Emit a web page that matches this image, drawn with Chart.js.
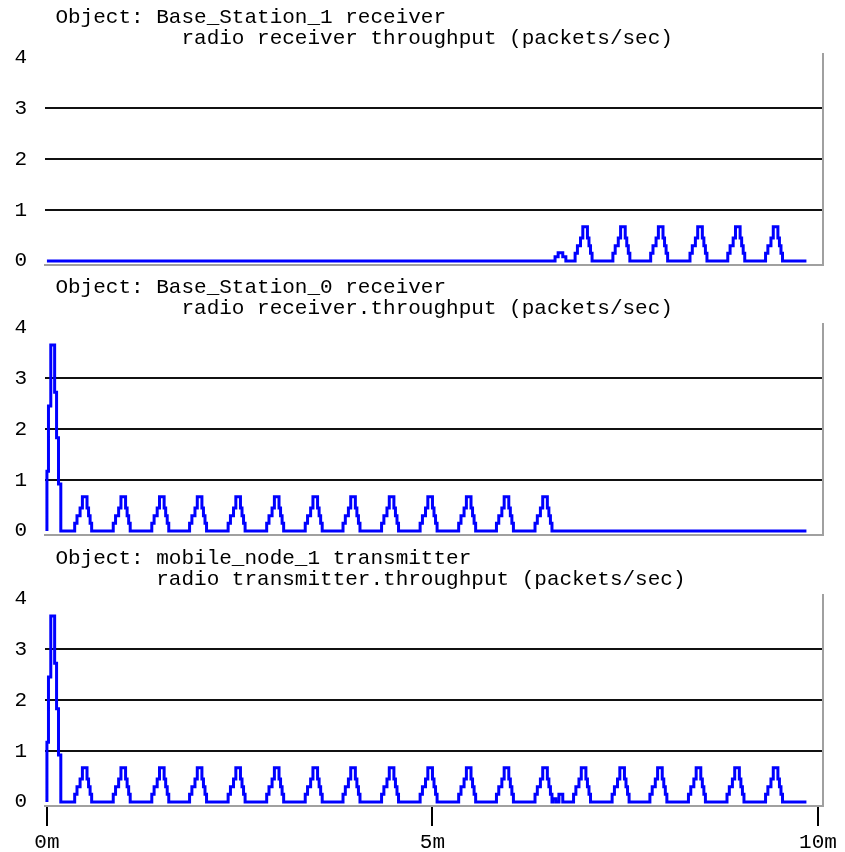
<!DOCTYPE html>
<html>
<head>
<meta charset="utf-8">
<script src="https://cdn.jsdelivr.net/npm/chart.js@4.4.1/dist/chart.umd.min.js"></script>
<style>
  html, body { margin: 0; padding: 0; background: #fff; }
  body { width: 845px; height: 852px; position: relative; overflow: hidden; }
  canvas { position: absolute; left: 0; }
</style>
</head>
<body>
<canvas id="bs1" width="845" height="270" style="top:0px"></canvas>
<canvas id="bs0" width="845" height="270" style="top:270px"></canvas>
<canvas id="mn1" width="845" height="311" style="top:541px"></canvas>
<script>
// axis ticks: minutes on x, packets/sec on y
const xTicks = [0, 5, 10];
const yTicks = [0, 1, 2, 3, 4];

const peakOffsets = [-0.13, -0.10, -0.06, -0.03, 0.03, 0.05, 0.07, 0.09];
const peakLevels = [0.15, 0.30, 0.45, 0.67, 0.45, 0.30, 0.15, 0];

// start-up spike (Base_Station_0 and mobile_node_1)
const spikeTimes = [0, 0, 0.02, 0.05, 0.10, 0.125, 0.15, 0.18];
const spikeLevels = [0, 1.17, 2.45, 3.65, 2.72, 1.83, 0.92, 0];

// where the peaks sit (min)
const bs1Peaks = [6.98, 7.47, 7.96, 8.47, 8.96, 9.45];
const bs0Peaks = [0.49, 0.99, 1.49, 1.98, 2.48, 2.98, 3.48, 3.97, 4.47, 4.97, 5.47, 5.96, 6.46];
const mn1Peaks = [0.49, 0.99, 1.49, 1.98, 2.48, 2.98, 3.48, 3.97, 4.47, 4.97, 5.47, 5.96, 6.46,
                  6.96, 7.46, 7.95, 8.45, 8.95, 9.45];

// small blips near 6.6 min
const bs1BlipTimes = [6.59, 6.63, 6.69, 6.73];
const bs1BlipLevels = [0.08, 0.16, 0.08, 0];
const mn1BlipTimes = [6.56, 6.60, 6.64, 6.69];
const mn1BlipLevels = [0.06, 0, 0.15, 0];

const endTime = 9.85;

const titles = {
  bs1: ["    Object: Base_Station_1 receiver",
        "              radio receiver throughput (packets/sec)"],
  bs0: ["    Object: Base_Station_0 receiver",
        "              radio receiver.throughput (packets/sec)"],
  mn1: ["    Object: mobile_node_1 transmitter",
        "            radio transmitter.throughput (packets/sec)"]
};

function series(peaks, times, levels) {
  const pts = [{ x: 0, y: 0 }];
  times.forEach((t, i) => pts.push({ x: t, y: levels[i] }));
  peaks.forEach(c => {
    peakOffsets.forEach((d, i) => pts.push({ x: +(c + d).toFixed(3), y: peakLevels[i] }));
  });
  pts.push({ x: endTime, y: 0 });
  return pts.sort((a, b) => a.x - b.x);
}

const monoFont = { family: "'Liberation Mono', 'DejaVu Sans Mono', monospace", size: 21, weight: "normal", lineHeight: 1 };

function makeChart(id, data, showTime) {
  return new Chart(document.getElementById(id), {
    type: "line",
    data: {
      datasets: [{
        data: data,
        borderColor: "#0000ff",
        borderWidth: 3,
        stepped: true,
        pointRadius: 0,
        fill: false
      }]
    },
    options: {
      responsive: false,
      animation: false,
      events: [],
      layout: { padding: { left: 5, right: 0, top: 0, bottom: 0 } },
      plugins: {
        legend: { display: false },
        tooltip: { enabled: false },
        title: {
          display: true,
          text: titles[id],
          align: "start",
          color: "#000",
          font: monoFont,
          padding: { top: 6.5, bottom: 5.5 }
        }
      },
      scales: {
        x: {
          type: "linear",
          min: -0.025,
          max: 10.065,
          afterBuildTicks: a => { a.ticks = xTicks.map(v => ({ value: v })); },
          afterFit: a => { a.height = showTime ? 46 : 5; a.paddingLeft = 0; a.paddingRight = 0; },
          grid: { display: true, drawOnChartArea: false, drawTicks: showTime, tickLength: 20, color: "#000", tickColor: "#000", lineWidth: 2 },
          border: { display: true, color: "#a0a0a0", width: 2 },
          ticks: { display: showTime, autoSkip: false, maxRotation: 0, padding: 6, color: "#000", font: monoFont, callback: v => v + "m" }
        },
        y: {
          min: -0.08,
          max: 4.06,
          afterBuildTicks: a => { a.ticks = yTicks.map(v => ({ value: v })); },
          afterFit: a => { a.width = 40; a.paddingTop = 0; a.paddingBottom = 0; },
          grid: {
            drawTicks: false,
            lineWidth: 2,
            color: c => (c.tick && c.tick.value > 0 && c.tick.value < 4) ? "#111" : "rgba(0,0,0,0)"
          },
          border: { display: false },
          ticks: { padding: 18, color: "#000", font: monoFont }
        },
        y2: {
          position: "right",
          afterFit: a => { a.width = 22; a.paddingTop = 0; a.paddingBottom = 0; },
          grid: { drawOnChartArea: false, drawTicks: false },
          ticks: { display: false },
          border: { display: true, color: "#a0a0a0", width: 2 }
        }
      }
    }
  });
}

makeChart("bs1", series(bs1Peaks, bs1BlipTimes, bs1BlipLevels), false);
makeChart("bs0", series(bs0Peaks, spikeTimes, spikeLevels), false);
makeChart("mn1", series(mn1Peaks, spikeTimes.concat(mn1BlipTimes), spikeLevels.concat(mn1BlipLevels)), true);
</script>
</body>
</html>
